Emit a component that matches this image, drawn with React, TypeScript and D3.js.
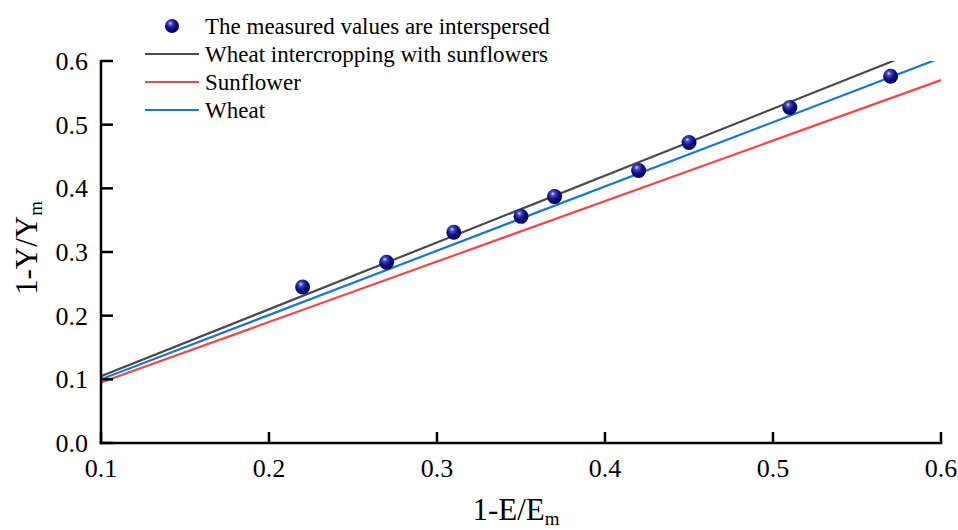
import React from "react";
import * as d3 from "d3";

const W = 958;
const H = 530;

const xTicks = [0.1, 0.2, 0.3, 0.4, 0.5, 0.6];
const yTicks = [0.0, 0.1, 0.2, 0.3, 0.4, 0.5, 0.6];

const measuredX = [0.22, 0.27, 0.31, 0.35, 0.37, 0.42, 0.45, 0.51, 0.57];
const measuredY = [0.245, 0.284, 0.331, 0.356, 0.387, 0.428, 0.472, 0.527, 0.576];

const fitNames = ["Wheat intercropping with sunflowers", "Sunflower", "Wheat"];
const fitColors = ["#4a4a4a", "#f5464a", "#1677d2"];
const fitX0 = [0.1, 0.1, 0.1];
const fitX1 = [0.6, 0.6, 0.6];
const fitY0 = [0.105, 0.095, 0.1];
const fitY1 = [0.63, 0.57, 0.605];

const legendPointLabel = "The measured values are interspersed";

const FONT = "'Liberation Serif', 'Times New Roman', serif";

export default function App() {
  const left = 101;
  const right = 941;
  const top = 61;
  const bottom = 443;
  const x = d3.scaleLinear().domain([0.1, 0.6]).range([left, right]);
  const y = d3.scaleLinear().domain([0, 0.6]).range([bottom, top]);
  const line = d3
    .line<[number, number]>()
    .x((d) => x(d[0]))
    .y((d) => y(d[1]));

  const legendX = 145;
  const legendRows = [26, 54, 82, 110];

  return (
    <svg
      width={W}
      height={H}
      style={{ position: "absolute", left: 0, top: 0, background: "#fff" }}
      fontFamily={FONT}
    >
      <defs>
        <clipPath id="plotClip">
          <rect x={left} y={top} width={right - left + 2} height={bottom - top} />
        </clipPath>
        <radialGradient id="ball" cx="0.4" cy="0.35" r="0.65" fx="0.38" fy="0.3">
          <stop offset="0" stopColor="#d8d8f0" />
          <stop offset="0.22" stopColor="#4a4ab8" />
          <stop offset="0.55" stopColor="#10108a" />
          <stop offset="1" stopColor="#000060" />
        </radialGradient>
      </defs>

      {/* fit lines */}
      <g clipPath="url(#plotClip)">
        {fitNames.map((n, i) => (
          <path
            key={n}
            d={line([
              [fitX0[i], fitY0[i]],
              [fitX1[i], fitY1[i]],
            ]) as string}
            fill="none"
            stroke={fitColors[i]}
            strokeWidth={2.2}
          />
        ))}
      </g>

      {/* axes */}
      <g stroke="#000" strokeWidth={2.5} fill="none">
        <line x1={left} y1={top - 1} x2={left} y2={bottom + 1.25} />
        <line x1={left - 1.25} y1={bottom} x2={right + 1.25} y2={bottom} />
        {yTicks.map((t) => (
          <line key={"yt" + t} x1={left} x2={left + 12} y1={y(t)} y2={y(t)} />
        ))}
        {xTicks.map((t) => (
          <line key={"xt" + t} x1={x(t)} x2={x(t)} y1={bottom} y2={bottom - 11} />
        ))}
      </g>
      <g fontSize={26} fill="#000">
        {yTicks.map((t) => (
          <text key={"yl" + t} x={left - 13} y={y(t)} dy="0.35em" textAnchor="end">
            {d3.format(".1f")(t)}
          </text>
        ))}
        {xTicks.map((t) => (
          <text key={"xl" + t} x={x(t)} y={477} textAnchor="middle">
            {d3.format(".1f")(t)}
          </text>
        ))}
      </g>

      {/* axis titles */}
      <text x={516} y={520} fontSize={31} textAnchor="middle" fill="#000">
        1-E/E<tspan fontSize={19} dy={5}>m</tspan>
      </text>
      <text
        transform="translate(37,248) rotate(-90)"
        fontSize={31}
        textAnchor="middle"
        fill="#000"
      >
        1-Y/Y<tspan fontSize={19} dy={5}>m</tspan>
      </text>

      {/* measured points */}
      {measuredX.map((v, i) => (
        <circle key={"p" + i} cx={x(v)} cy={y(measuredY[i])} r={7.5} fill="url(#ball)" />
      ))}

      {/* legend */}
      <g fontSize={23} fill="#000">
        <circle cx={172} cy={legendRows[0]} r={7} fill="url(#ball)" />
        <text x={205} y={legendRows[0]} dy="0.33em">
          {legendPointLabel}
        </text>
        {fitNames.map((n, i) => (
          <g key={"lg" + n}>
            <line
              x1={legendX}
              x2={legendX + 54}
              y1={legendRows[i + 1]}
              y2={legendRows[i + 1]}
              stroke={fitColors[i]}
              strokeWidth={2.2}
            />
            <text x={205} y={legendRows[i + 1]} dy="0.33em">
              {n}
            </text>
          </g>
        ))}
      </g>
    </svg>
  );
}
